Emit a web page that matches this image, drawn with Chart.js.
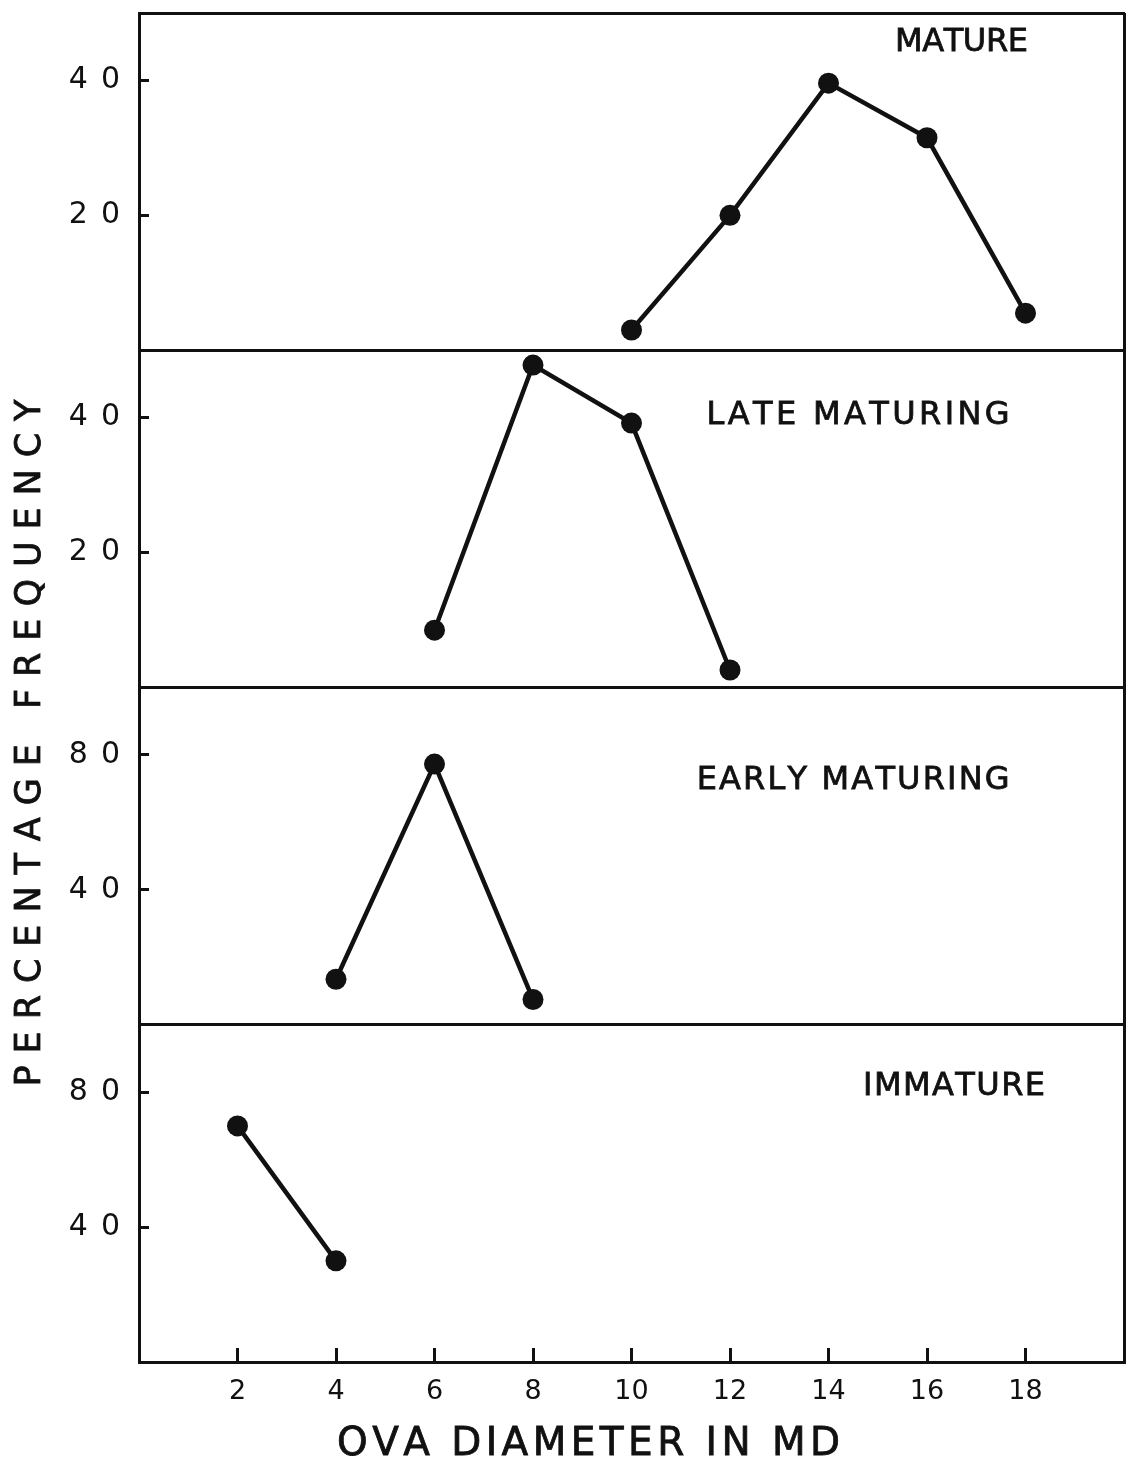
<!DOCTYPE html>
<html>
<head>
<meta charset="utf-8">
<title>Ova diameter frequency</title>
<script src="https://cdn.jsdelivr.net/npm/chart.js@4.4.0/dist/chart.umd.min.js"></script>
<style>
html, body { margin: 0; padding: 0; background: #fff; overflow: hidden; }
#ovaChart { display: block; }
</style>
</head>
<body>
<canvas id="ovaChart" width="1128" height="1464"></canvas>
<script>
// ova diameter classes (x) and percentage frequency per maturity stage
const matureX = [10, 12, 14, 16, 18]
const matureY = [3, 20, 39.6, 31.5, 5.5]

const lateX = [6, 8, 10, 12]
const lateY = [8.5, 47.8, 39.2, 2.6]

const earlyX = [4, 6, 8]
const earlyY = [13.5, 77.3, 7.5]

const immatureX = [2, 4]
const immatureY = [70, 30]

const stageNames = ["MATURE", "LATE MATURING", "EARLY MATURING", "IMMATURE"]

const xTickLabels = [2, 4, 6, 8, 10, 12, 14, 16, 18]
const freqTickLabels = [20, 40]
const pctTickLabels = [40, 80]

const INK = "#111"
const FONT = "DejaVu Sans"
const CLEAR = "rgba(0,0,0,0)"

function points(xs, ys){
  return xs.map((x, i) => ({x: x, y: ys[i]}))
}

function stageSet(xs, ys, axis){
  return {
    data: points(xs, ys),
    yAxisID: axis,
    borderColor: INK,
    borderWidth: 4.5,
    pointRadius: 10.5,
    pointBackgroundColor: INK,
    pointBorderWidth: 0,
    tension: 0,
    clip: false
  }
}

// one y axis per panel, all stacked on the left side
function panelAxis(max, labels){
  return {
    type: "linear",
    position: "left",
    stack: "panels",
    stackWeight: 1,
    min: 0,
    max: max,
    afterFit: s => { s.width = 139; s.paddingTop = 0; s.paddingBottom = 0 },
    border: {display: true, color: INK, width: 3},
    grid: {
      lineWidth: 3,
      // only the panel floor is ruled across
      color: c => (c.tick && c.tick.value === 0) ? INK : CLEAR,
      tickLength: -10,
      tickWidth: 3,
      tickColor: c => (c.tick && c.tick.value > 0 && c.tick.value < max) ? INK : CLEAR
    },
    ticks: {
      stepSize: max / 5,
      color: INK,
      padding: 16,
      font: {family: FONT, size: 30},
      callback: v => labels.includes(v) ? String(v) : ""
    }
  }
}

// text drawn letter by letter so it spans a given width
function spacedText(ctx, text, cx, cy, width, size){
  const chars = [...text]
  const widths = chars.map(ch => ctx.measureText(ch).width)
  const natural = widths.reduce((a, b) => a + b, 0)
  const gap = chars.length > 1 ? (width - natural) / (chars.length - 1) : 0
  let x = cx - width / 2
  const base = cy + size * 0.729 / 2
  ctx.textAlign = "left"
  ctx.textBaseline = "alphabetic"
  chars.forEach((ch, i) => {
    ctx.fillText(ch, x, base)
    ctx.strokeText(ch, x, base)
    x += widths[i] + gap
  })
}

// where each stage name sits, in that panel's data units
const stageLabelPos = [
  {axis: "yMature", x: 16.7, y: 46.1, w: 133},
  {axis: "yLate", x: 14.6, y: 40.8, w: 303},
  {axis: "yEarly", x: 14.5, y: 73.5, w: 313},
  {axis: "yImmature", x: 16.55, y: 82.7, w: 182}
]

const lettering = {
  id: "lettering",
  beforeDraw(chart){
    // wide spacing for the panel tick numbers
    chart.ctx.letterSpacing = "13px"
  },
  beforeDatasetsDraw(chart){
    chart.ctx.letterSpacing = "0px"
  },
  afterDraw(chart){
    const ctx = chart.ctx
    const xs = chart.scales.x
    ctx.save()
    ctx.letterSpacing = "0px"
    ctx.fillStyle = INK
    ctx.strokeStyle = INK
    ctx.lineWidth = 0.8

    ctx.font = "32px " + FONT
    stageLabelPos.forEach((p, i) => {
      const ys = chart.scales[p.axis]
      spacedText(ctx, stageNames[i], xs.getPixelForValue(p.x), ys.getPixelForValue(p.y), p.w, 32)
    })

    ctx.font = "39px " + FONT
    spacedText(ctx, "OVA DIAMETER IN MD", 588.5, 1440.5, 503, 39)

    ctx.save()
    ctx.translate(27.5, 743)
    ctx.rotate(-Math.PI / 2)
    ctx.font = "35px " + FONT
    spacedText(ctx, "PERCENTAGE FREQUENCY", 0, 0, 687, 35)
    ctx.restore()

    ctx.restore()
  }
}

// stacked scales are placed top-down from the last one listed
const ovaChart = new Chart(document.getElementById("ovaChart").getContext("2d"), {
  type: "line",
  data: {
    datasets: [
      stageSet(matureX, matureY, "yMature"),
      stageSet(lateX, lateY, "yLate"),
      stageSet(earlyX, earlyY, "yEarly"),
      stageSet(immatureX, immatureY, "yImmature")
    ]
  },
  options: {
    responsive: false,
    animation: false,
    devicePixelRatio: 1,
    layout: {autoPadding: false, padding: {top: 13, right: 4, left: 0, bottom: 0}},
    plugins: {legend: {display: false}, tooltip: {enabled: false}},
    scales: {
      x: {
        type: "linear",
        position: "bottom",
        min: 0,
        max: 20,
        afterFit: s => { s.height = 102; s.paddingLeft = 0; s.paddingRight = 0 },
        border: {display: true, color: INK, width: 3},
        grid: {
          lineWidth: 3,
          color: c => (c.tick && c.tick.value === 20) ? INK : CLEAR,
          tickLength: -14,
          tickWidth: 3,
          tickColor: c => (c.tick && c.tick.value > 0 && c.tick.value < 20) ? INK : CLEAR
        },
        ticks: {
          stepSize: 2,
          z: 1,
          color: INK,
          padding: 28,
          maxRotation: 0,
          font: {family: FONT, size: 27},
          callback: v => xTickLabels.includes(v) ? String(v) : ""
        }
      },
      // bare top axis, only its rule closes the frame
      xTop: {
        type: "linear",
        position: "top",
        min: 0,
        max: 20,
        afterFit: s => { s.height = 0; s.paddingLeft = 0; s.paddingRight = 0 },
        border: {display: true, color: INK, width: 3},
        grid: {display: false},
        ticks: {display: false}
      },
      yImmature: panelAxis(100, pctTickLabels),
      yEarly: panelAxis(100, pctTickLabels),
      yLate: panelAxis(50, freqTickLabels),
      yMature: panelAxis(50, freqTickLabels)
    }
  },
  plugins: [lettering]
})
</script>
</body>
</html>
